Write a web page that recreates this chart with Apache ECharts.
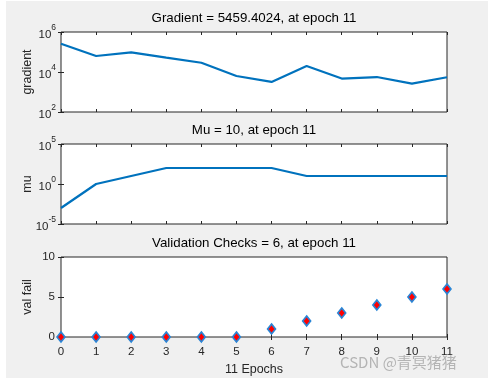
<!DOCTYPE html>
<html>
<head>
<meta charset="utf-8">
<script src="https://cdn.jsdelivr.net/npm/echarts@6/dist/echarts.min.js"></script>
<style>
html,body{margin:0;padding:0;background:#fff;}
#chart{width:492px;height:381px;}
</style>
</head>
<body>
<div id="chart"></div>
<script>
// ---- data ----
const epochs = [0,1,2,3,4,5,6,7,8,9,10,11];
const gradientValues = [2.6e5, 6.3e4, 9.5e4, 5.2e4, 2.9e4, 6.3e3, 3.2e3, 2.0e4, 4.7e3, 5.6e3, 2.6e3, 5459.4024];
const muValues = [1e-3, 1, 10, 100, 100, 100, 100, 10, 10, 10, 10, 10];
const valFailValues = [0,0,0,0,0,0,1,2,3,4,5,6];
const xTickLabels = ['0','1','2','3','4','5','6','7','8','9','10','11'];
const titles = ['Gradient = 5459.4024, at epoch 11', 'Mu = 10, at epoch 11', 'Validation Checks = 6, at epoch 11'];
const yNames = ['gradient', 'mu', 'val fail'];
const xName = '11 Epochs';
const watermark = 'CSDN @青冥猪猪';

const FONT = '"Liberation Sans", Arial, Helvetica, sans-serif';
const AX = '#262626';
const LINE = '#0072BD';

const chart = echarts.init(document.getElementById('chart'), null, {renderer:'canvas'});

const gridTops = [32, 144, 257];
const gridH = 80;
const grids = gridTops.map(t => ({
  left: 61, right: 45, top: t, height: gridH,
  show: true, backgroundColor: '#fff', borderColor: AX, borderWidth: 1, containLabel: false
}));

function supFmt(v) {
  const e = Math.round(Math.log10(v));
  return '{b|10}{s|' + e + '}';
}
const supRich = {
  b: {fontSize: 11.5, color: AX, fontFamily: FONT, verticalAlign: 'bottom', lineHeight: 17},
  s: {fontSize: 8.5, color: AX, fontFamily: FONT, verticalAlign: 'top', lineHeight: 17}
};

const xAxes = [];
const yAxes = [];
for (let i = 0; i < 3; i++) {
  const showLabels = (i === 2);
  ['bottom','top'].forEach(pos => {
    xAxes.push({
      type: 'value', gridIndex: i, position: pos, min: 0, max: 11, interval: 1,
      axisLine: {show: false},
      axisTick: {show: true, inside: true, length: 3, lineStyle: {color: AX}},
      splitLine: {show: false},
      axisLabel: {show: showLabels && pos === 'bottom', color: AX, fontSize: 11.5, fontFamily: FONT, margin: 9,
        formatter: v => xTickLabels[v]},
      name: (showLabels && pos === 'bottom') ? xName : '',
      nameLocation: 'middle', nameGap: 26, nameMoveOverlap: false,
      nameTextStyle: {color: AX, fontSize: 12.5, fontFamily: FONT}
    });
  });
  ['left','right'].forEach(pos => {
    const base = {
      gridIndex: i, position: pos,
      axisLine: {show: false},
      axisTick: {show: true, inside: true, length: 3, lineStyle: {color: AX}},
      splitLine: {show: false},
      minorTick: {show: false},
      name: pos === 'left' ? yNames[i] : '',
      nameLocation: 'middle', nameGap: 27, nameRotate: 90, nameMoveOverlap: false,
      nameTextStyle: {color: AX, fontSize: 12.5, fontFamily: FONT}
    };
    if (i === 0) {
      Object.assign(base, {type: 'log', logBase: 10, min: 1e2, max: 1e6, interval: 2,
        axisLabel: {show: pos === 'left', formatter: supFmt, rich: supRich, margin: 5}});
    } else if (i === 1) {
      Object.assign(base, {type: 'log', logBase: 10, min: 1e-5, max: 1e5, interval: 5,
        axisLabel: {show: pos === 'left', formatter: supFmt, rich: supRich, margin: 5}});
    } else {
      Object.assign(base, {type: 'value', min: 0, max: 10, interval: 5,
        axisLabel: {show: pos === 'left', color: AX, fontSize: 11.5, fontFamily: FONT, margin: 6}});
    }
    yAxes.push(base);
  });
}

const pairs = arr => epochs.map((e, k) => [e, arr[k]]);

const option = {
  animation: false,
  backgroundColor: '#fff',
  graphic: [
    {type: 'rect', left: 6, top: 1, shape: {width: 482, height: 377}, style: {fill: '#f0f0f0'}, z: -10, silent: true},
    {type: 'text', left: 340, top: 355, style: {text: watermark, fill: 'rgba(165,165,165,0.8)', font: '15px "Noto Sans CJK SC", "Liberation Sans", sans-serif'}, z: 100}
  ],
  title: titles.map((t, i) => ({
    text: t, left: 254, textAlign: 'center', top: gridTops[i] - 20,
    textStyle: {color: '#000', fontSize: 13.3, fontWeight: 'normal', fontFamily: FONT}, padding: 0
  })),
  grid: grids,
  xAxis: xAxes,
  yAxis: yAxes,
  series: [
    {type: 'line', xAxisIndex: 0, yAxisIndex: 0, data: pairs(gradientValues), showSymbol: false, symbol: 'none',
      lineStyle: {color: LINE, width: 2.2}},
    {type: 'line', xAxisIndex: 2, yAxisIndex: 2, data: pairs(muValues), showSymbol: false, symbol: 'none',
      lineStyle: {color: LINE, width: 2.2}},
    {type: 'scatter', xAxisIndex: 4, yAxisIndex: 4, data: pairs(valFailValues), symbol: 'diamond', symbolSize: [8, 10],
      clip: false, itemStyle: {color: '#ff0000', borderColor: '#2a86d6', borderWidth: 1.6, opacity: 1}, z: 5}
  ]
};
chart.setOption(option);
</script>
</body>
</html>
